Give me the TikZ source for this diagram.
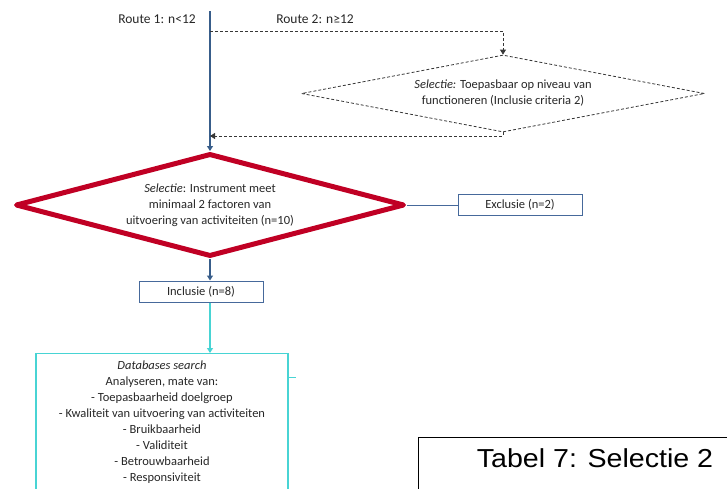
\documentclass[tikz,border=0pt]{standalone}
\usepackage{fontspec}
\setmainfont{Carlito}
\newfontfamily\arialfont{Liberation Sans}
\usetikzlibrary{shapes.geometric,arrows.meta}
\definecolor{mainblue}{RGB}{56,93,138}
\definecolor{boxblue}{RGB}{70,105,155}
\definecolor{selred}{RGB}{192,0,36}
\definecolor{dbcyan}{RGB}{72,212,212}
\definecolor{dashgray}{RGB}{55,55,55}
\begin{document}
\begin{tikzpicture}[x=1pt,y=-1pt,
  txt/.style={font=\fontsize{12.5}{16}\selectfont, align=center, text=black!85},
  bluearrow/.style={draw=mainblue, line width=1.8pt, -{Triangle[width=6pt,length=5pt]}},
  dashline/.style={draw=dashgray, line width=0.8pt, dash pattern=on 3pt off 2pt},
  dasharrow/.style={dashline, -{Triangle[width=6pt,length=5pt]}},
  flowbox/.style={draw=boxblue, line width=1pt, txt, minimum width=124pt, minimum height=21pt, inner sep=0pt},
]
\useasboundingbox (0,0) rectangle (727,488);
\clip (0,0) rectangle (727,488);

% labels
\node[txt, font=\fontsize{13.5}{16}\selectfont] (r1) at (157,19) {Route 1: n<12};
\node[txt, font=\fontsize{13.5}{16}\selectfont] (r2) at (315,19) {Route 2: n≥12};

% route 2 dashed diamond
\node[diamond, dashline, txt, minimum width=403pt, minimum height=77pt, inner sep=0pt, aspect=5.2] (dd) at (503,93.5)
  {\textit{Selectie:} Toepasbaar op niveau van\\functioneren (Inclusie criteria 2)};

% red diamond
\node[diamond, draw=selred, line width=5pt, line join=round, txt, minimum width=389pt, minimum height=103pt, inner sep=0pt, aspect=3.8] (rd) at (210,205)
  {\textit{Selectie}: Instrument meet\\minimaal 2 factoren van\\uitvoering van activiteiten (n=10)};

% boxes
\node[flowbox] (excl) at (520,205) {Exclusie (n=2)};
\node[flowbox] (incl) at (201,291.5) {Inclusie (n=8)};
\node[draw=dbcyan, line width=1.2pt, txt, minimum width=252pt, minimum height=150pt, anchor=north, inner sep=0pt] (db) at (162,353) {};
\node[txt, anchor=north] (dbtext) at (162,357)
  {\textit{Databases search}\\Analyseren, mate van:\\- Toepasbaarheid doelgroep\\- Kwaliteit van uitvoering van activiteiten\\- Bruikbaarheid\\- Validiteit\\- Betrouwbaarheid\\- Responsiviteit};

% tabel box
\node[draw=black, line width=1.2pt, minimum width=330pt, minimum height=80pt, anchor=north west, inner sep=0pt] (tab) at (418,437) {};
\node[font=\arialfont\fontsize{26}{28}\selectfont, text=black] (tabtext) at (595,458) {\scalebox{1.1}[1]{Tabel 7: Selectie 2}};

% connectors
\coordinate (top) at (210,11);
\coordinate (split) at (210,31);
\coordinate (ret) at (210,136);
\draw[bluearrow] (top) -- (rd.north);
\draw[dasharrow] (split) -| (dd.north);
\draw[dasharrow] (dd.south) |- (ret);
\draw[draw=boxblue, line width=0.8pt] (rd.east) -- (excl.west);
\draw[bluearrow] (rd.south) -- (rd.south |- incl.north);
\draw[draw=dbcyan, line width=1.8pt, -{Triangle[width=6pt,length=5pt]}] (incl.south -| 210,0) -- (db.north -| 210,0);
\coordinate (tick) at (296,377);
\draw[draw=dbcyan, line width=1pt] (db.east |- tick) -- (tick);
\end{tikzpicture}
\end{document}
